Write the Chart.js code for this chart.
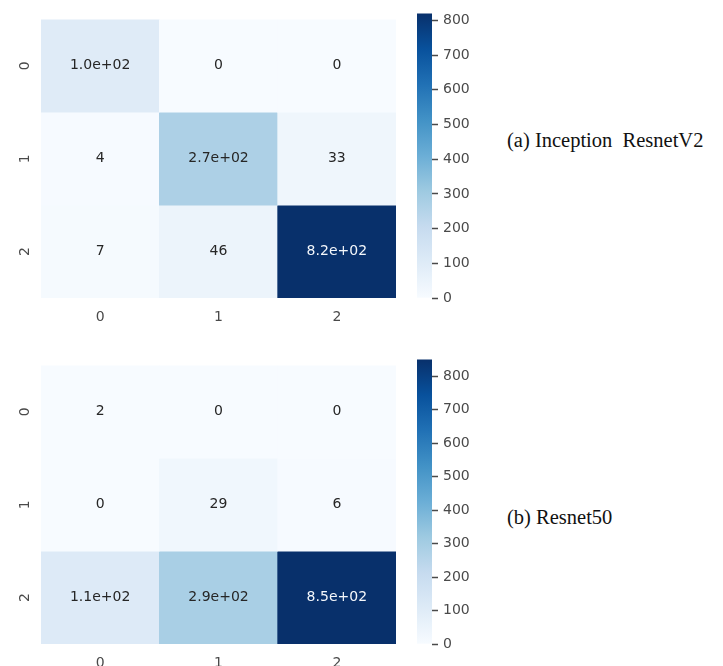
<!DOCTYPE html>
<html>
<head>
<meta charset="utf-8">
<script src="https://cdn.jsdelivr.net/npm/chart.js@4.4.0/dist/chart.umd.min.js"></script>
<style>
  html, body { margin: 0; padding: 0; background: #fff; }
  body { position: relative; width: 723px; height: 666px; overflow: hidden; }
  canvas { position: absolute; }
  .caption {
    position: absolute;
    font-family: "Liberation Serif", "Times New Roman", serif;
    font-size: 20.5px;
    color: #111;
    white-space: pre;
    line-height: 1;
  }
</style>
</head>
<body>
<canvas id="cmA" width="400" height="335" style="left:0px;top:0px"></canvas>
<canvas id="barA" width="100" height="312" style="left:400px;top:0px"></canvas>
<div class="caption" style="left:507px;top:130px">(a) Inception  ResnetV2</div>

<canvas id="cmB" width="400" height="320" style="left:0px;top:346px"></canvas>
<canvas id="barB" width="100" height="312" style="left:400px;top:346px"></canvas>
<div class="caption" style="left:507px;top:507px">(b) Resnet50</div>

<script>
// class labels (rows = true, cols = predicted)
const rowLabels = ["0", "1", "2"];
const colLabels = ["0", "1", "2"];

// confusion matrices
const inceptionResnetV2 = [
  [100, 0, 0],
  [4, 270, 33],
  [7, 46, 820]
];
const resnet50 = [
  [2, 0, 0],
  [0, 29, 6],
  [110, 290, 850]
];

// colorbar ticks
const colorbarTicks = [0, 100, 200, 300, 400, 500, 600, 700, 800];

const TICK_COLOR = "#4a4a4a";
const TICK_FONT = { family: "DejaVu Sans", size: 14 };

// matplotlib "Blues"
const BLUES = [
  [247, 251, 255], [222, 235, 247], [198, 219, 239], [158, 202, 225],
  [107, 174, 214], [66, 146, 198], [33, 113, 181], [8, 81, 156], [8, 48, 107]
];

function mix(t) {
  t = Math.max(0, Math.min(1, t));
  const p = t * (BLUES.length - 1);
  const i = Math.min(Math.floor(p), BLUES.length - 2);
  const f = p - i;
  return BLUES[i].map((v, k) => v + (BLUES[i + 1][k] - v) * f);
}

function blues(t) {
  const c = mix(t).map(Math.round);
  return `rgb(${c[0]},${c[1]},${c[2]})`;
}

function lum(t) {
  const lin = mix(t).map(v => {
    v /= 255;
    return v <= 0.03928 ? v / 12.92 : Math.pow((v + 0.055) / 1.055, 2.4);
  });
  return 0.2126 * lin[0] + 0.7152 * lin[1] + 0.0722 * lin[2];
}

// seaborn-like annotation text
function fmt(v) {
  if (v < 100) return String(v);
  const [m, e] = v.toExponential(1).split("e");
  return m + "e" + e[0] + e.slice(1).padStart(2, "0");
}

const annotate = {
  id: "annotate",
  afterDatasetsDraw(chart) {
    const ctx = chart.ctx;
    const vmax = chart.options.plugins.annotate.vmax;
    ctx.save();
    ctx.font = "14px 'DejaVu Sans'";
    ctx.textAlign = "center";
    ctx.textBaseline = "middle";
    chart.data.datasets.forEach((ds, di) => {
      const meta = chart.getDatasetMeta(di);
      meta.data.forEach((bar, i) => {
        const v = ds.cellValues[i];
        ctx.fillStyle = lum(v / vmax) > 0.408 ? "#262626" : "#f4f7fb";
        ctx.fillText(fmt(v), bar.x, (bar.y + bar.base) / 2);
      });
    });
    ctx.restore();
  }
};

function heatmap(id, matrix, vmax) {
  const datasets = rowLabels.map((r, i) => ({
    label: r,
    data: colLabels.map(() => [i, i + 1]),
    cellValues: matrix[i],
    backgroundColor: matrix[i].map(v => blues(v / vmax)),
    borderWidth: 0,
    grouped: false,
    barPercentage: 1,
    categoryPercentage: 1
  }));

  new Chart(document.getElementById(id), {
    type: "bar",
    data: { labels: colLabels, datasets },
    plugins: [annotate],
    options: {
      responsive: false,
      animation: false,
      devicePixelRatio: 1,
      layout: { padding: { top: 11, right: 4, left: 0, bottom: 0 } },
      plugins: {
        legend: { display: false },
        tooltip: { enabled: false },
        annotate: { vmax }
      },
      scales: {
        x: {
          grid: { display: false, drawTicks: false },
          border: { display: false },
          ticks: { color: TICK_COLOR, font: TICK_FONT, padding: 11 },
          afterFit: s => { s.height = s.chart.height - 11 - 287; }
        },
        y: {
          type: "linear",
          min: 0,
          max: rowLabels.length,
          reverse: true,
          grid: { display: false, drawTicks: false },
          border: { display: false },
          afterBuildTicks: s => { s.ticks = rowLabels.map((_, i) => ({ value: i + 0.5 })); },
          ticks: {
            color: TICK_COLOR,
            font: TICK_FONT,
            minRotation: 90,
            maxRotation: 90,
            crossAlign: "center",
            padding: 11,
            callback: (v, i) => rowLabels[i]
          },
          afterFit: s => { s.width = 41; }
        }
      }
    }
  });
}

function colorbar(id, vmax) {
  new Chart(document.getElementById(id), {
    type: "bar",
    data: {
      labels: [""],
      datasets: [{
        data: [[0, vmax]],
        borderWidth: 0,
        barPercentage: 1,
        categoryPercentage: 1,
        backgroundColor: ctx => {
          const area = ctx.chart.chartArea;
          if (!area || !isFinite(area.top) || !isFinite(area.bottom)) return blues(0.5);
          // bottom of the area is 0, top is vmax
          const g = ctx.chart.ctx.createLinearGradient(0, area.bottom, 0, area.top);
          BLUES.forEach((_, k) => {
            const t = k / (BLUES.length - 1);
            g.addColorStop(t, blues(t));
          });
          return g;
        }
      }]
    },
    options: {
      responsive: false,
      animation: false,
      devicePixelRatio: 1,
      layout: { padding: { left: 17, top: 11, bottom: 14, right: 0 } },
      plugins: { legend: { display: false }, tooltip: { enabled: false } },
      scales: {
        x: { display: false },
        y: {
          position: "right",
          min: 0,
          max: vmax,
          border: { display: false },
          grid: { drawOnChartArea: false, drawTicks: true, tickLength: 6, tickWidth: 1.5, tickColor: TICK_COLOR },
          afterBuildTicks: s => { s.ticks = colorbarTicks.map(v => ({ value: v })); },
          ticks: { color: TICK_COLOR, font: TICK_FONT, padding: 5 },
          afterFit: s => { s.width = 68; }
        }
      }
    }
  });
}

heatmap("cmA", inceptionResnetV2, 820);
colorbar("barA", 820);
heatmap("cmB", resnet50, 850);
colorbar("barB", 850);
</script>
</body>
</html>
